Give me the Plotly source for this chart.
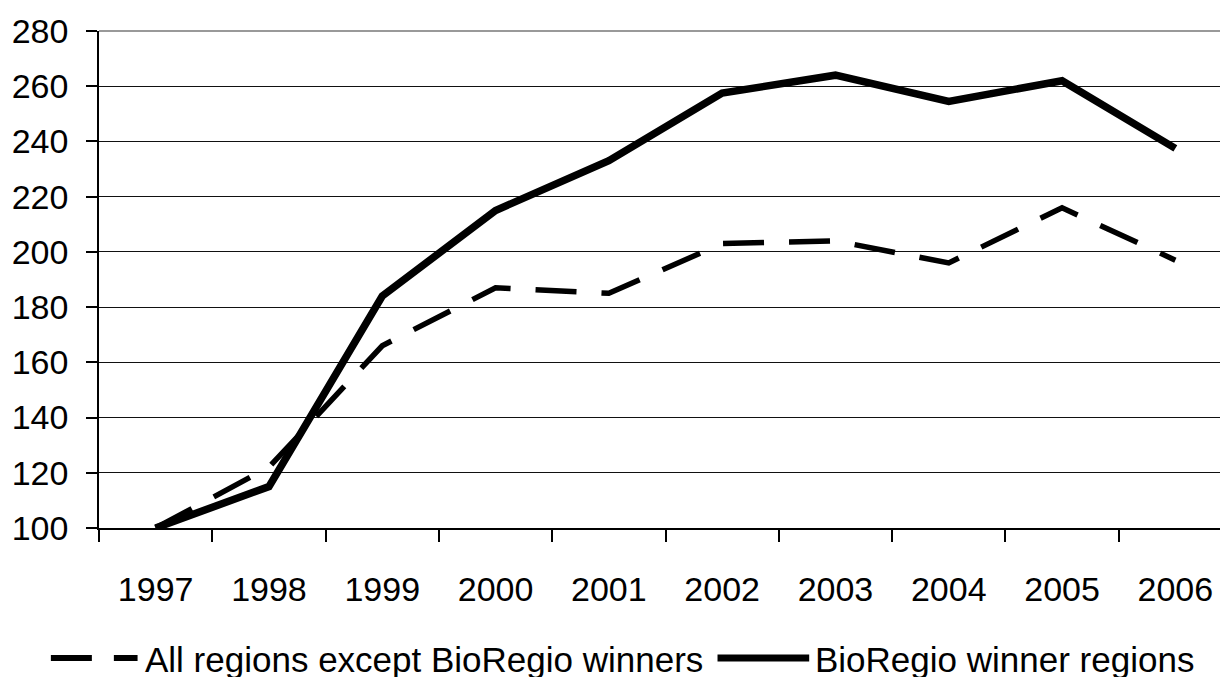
import plotly.graph_objects as go

years = ["1997", "1998", "1999", "2000", "2001", "2002", "2003", "2004", "2005", "2006"]
others = [100, 122, 166, 187, 185, 203, 204, 196, 216, 197]
winners = [100, 115, 184, 215, 233, 257.5, 264, 254.5, 262, 237.5]
y_ticks = [100, 120, 140, 160, 180, 200, 220, 240, 260, 280]
name_others = "All regions except BioRegio winners"
name_winners = "BioRegio winner regions"

FONT = "Liberation Sans, Arial, sans-serif"
OFF = 8  # page body margin offset
W, H = 1228, 677
L, T = 95.3 - OFF, 29.3 - OFF
B = H - (527.7 - OFF)
R = W - (95.3 + 10 * 113.7 - OFF)
pw = W - L - R
ph = H - T - B

fig = go.Figure()
fig.add_trace(go.Scatter(x=years, y=others, mode="lines", name=name_others,
                         line=dict(color="black", width=5.5, dash="41px,25px"),
                         showlegend=False))
fig.add_trace(go.Scatter(x=years, y=winners, mode="lines", name=name_winners,
                         line=dict(color="black", width=7.5),
                         showlegend=False))

# custom legend (paper coordinates, given in page pixels)
def px2x(px):
    return (px - OFF - L) / pw

def py2y(py):
    return (H - B - (py - OFF)) / ph

leg_y = py2y(658)
fig.add_shape(type="line", xref="paper", yref="paper", x0=px2x(47), x1=px2x(134),
              y0=leg_y, y1=leg_y, line=dict(color="black", width=6, dash="41px,22px"))
fig.add_shape(type="line", xref="paper", yref="paper", x0=px2x(716), x1=px2x(808),
              y0=leg_y, y1=leg_y, line=dict(color="black", width=7))
fig.add_annotation(xref="paper", yref="paper", x=px2x(139), y=py2y(660), text=name_others,
                   showarrow=False, xanchor="left", yanchor="middle",
                   font=dict(family=FONT, size=35, color="black"))
fig.add_annotation(xref="paper", yref="paper", x=px2x(812), y=py2y(660), text=name_winners,
                   showarrow=False, xanchor="left", yanchor="middle",
                   font=dict(family=FONT, size=35, color="black"))
# grey top border line of the plot area
fig.add_shape(type="line", xref="paper", yref="paper", x0=0, x1=1, y0=1, y1=1,
              line=dict(color="#999999", width=2))

fig.update_layout(
    width=W, height=H,
    margin=dict(l=L, r=R, t=T, b=B, pad=0),
    paper_bgcolor="white", plot_bgcolor="white",
    font=dict(family=FONT, size=34, color="black"),
    xaxis=dict(type="category", range=[-0.5, 9.5], showgrid=False,
               showline=True, linecolor="black", linewidth=1.5,
               ticks="outside", tickson="boundaries", ticklen=12, tickwidth=1.5,
               tickcolor="black", ticklabelstandoff=30,
               tickfont=dict(family=FONT, size=34, color="black")),
    yaxis=dict(range=[100, 280], tickvals=y_ticks, showgrid=True,
               gridcolor="#111", gridwidth=1.3, zeroline=False,
               showline=True, linecolor="black", linewidth=1.5,
               ticks="outside", ticklen=11, tickwidth=1.5, tickcolor="black",
               ticklabelstandoff=11,
               tickfont=dict(family=FONT, size=34, color="black")),
)

fig.write_html("out.html")
